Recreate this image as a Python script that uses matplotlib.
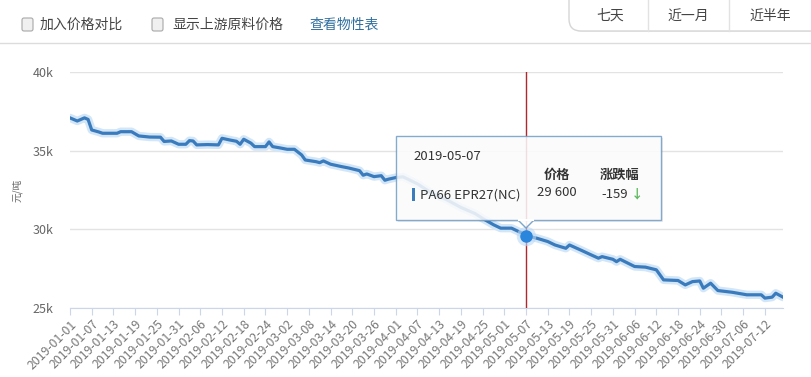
import matplotlib
matplotlib.use("Agg")
import matplotlib.pyplot as plt
import matplotlib.dates as mdates
from matplotlib.patches import FancyBboxPatch, Rectangle, Polygon
import pandas as pd

plt.rcParams['font.family'] = ['Noto Sans CJK SC', 'DejaVu Sans']

dates = ["2019-01-01", "2019-01-03", "2019-01-05", "2019-01-06", "2019-01-07", "2019-01-09",
         "2019-01-10", "2019-01-14", "2019-01-15", "2019-01-18", "2019-01-20", "2019-01-23",
         "2019-01-26", "2019-01-27", "2019-01-29", "2019-01-31", "2019-02-02", "2019-02-03",
         "2019-02-04", "2019-02-05", "2019-02-08", "2019-02-11", "2019-02-12", "2019-02-14",
         "2019-02-16", "2019-02-17", "2019-02-18", "2019-02-20", "2019-02-21", "2019-02-24",
         "2019-02-25", "2019-02-26", "2019-02-28", "2019-03-02", "2019-03-04", "2019-03-06",
         "2019-03-07", "2019-03-10", "2019-03-11", "2019-03-12", "2019-03-14", "2019-03-17",
         "2019-03-19", "2019-03-22", "2019-03-23", "2019-03-24", "2019-03-26", "2019-03-28",
         "2019-03-29", "2019-03-30", "2019-04-01", "2019-04-03", "2019-04-07", "2019-04-11",
         "2019-04-15", "2019-04-19", "2019-04-23", "2019-04-25", "2019-04-28", "2019-04-30",
         "2019-05-03", "2019-05-05", "2019-05-06", "2019-05-07", "2019-05-10", "2019-05-13",
         "2019-05-15", "2019-05-18", "2019-05-19", "2019-05-22", "2019-05-25", "2019-05-27",
         "2019-05-28", "2019-05-31", "2019-06-01", "2019-06-02", "2019-06-06", "2019-06-09",
         "2019-06-12", "2019-06-14", "2019-06-18", "2019-06-20", "2019-06-22", "2019-06-24",
         "2019-06-25", "2019-06-27", "2019-06-29", "2019-07-03", "2019-07-07", "2019-07-11",
         "2019-07-12", "2019-07-14", "2019-07-15", "2019-07-17"]
prices = [37100, 36900, 37100, 37000, 36330, 36200,
          36120, 36120, 36220, 36220, 35950, 35880,
          35870, 35600, 35630, 35420, 35420, 35650,
          35630, 35380, 35400, 35380, 35800, 35700,
          35610, 35420, 35740, 35490, 35270, 35270,
          35570, 35270, 35190, 35100, 35100, 34740,
          34420, 34310, 34250, 34360, 34150, 34000,
          33910, 33740, 33450, 33530, 33360, 33420,
          33130, 33200, 33300, 33350, 32900, 32300,
          31900, 31400, 31000, 30700, 30300, 30080,
          30080, 29860, 29760, 29600, 29440, 29230,
          29010, 28800, 29010, 28700, 28380, 28170,
          28270, 28100, 27950, 28100, 27640, 27600,
          27430, 26790, 26750, 26470, 26680, 26720,
          26260, 26580, 26110, 26000, 25840, 25840,
          25630, 25690, 25940, 25690]
y_ticks = [25000, 30000, 35000, 40000]
y_tick_labels = ["25k", "30k", "35k", "40k"]
series_name = "PA66 EPR27(NC)"
hover_date = "2019-05-07"
hover_price = "29 600"
hover_change = "-159"
y_label = "元/吨"
checkbox_labels = ["加入价格对比", "显示上游原料价格"]
link_label = "查看物性表"
range_buttons = ["七天", "近一月", "近半年"]

W, H = 811, 377
fig = plt.figure(figsize=(W / 100, H / 100), dpi=100)
fig.patch.set_facecolor("white")

L, R, T, B = 70, 783, 72.3, 308
ax = fig.add_axes([L / W, 1 - B / H, (R - L) / W, (B - T) / H])
x = pd.to_datetime(dates)
ax.plot(x, prices, color="#d3e6f7", lw=6, solid_capstyle="round", zorder=2)
ax.plot(x, prices, color="#3a7bbd", lw=2.3, solid_joinstyle="round", zorder=3)

hx = pd.Timestamp(hover_date)
hy = prices[dates.index(hover_date)]
ax.axvline(hx, color="#b0282c", lw=1, zorder=4)
ax.plot([hx], [hy], "o", ms=14, color="#bcd9f5", alpha=0.6, zorder=5, mec="none")
ax.plot([hx], [hy], "o", ms=8, color="#2a85dc", zorder=6, mec="#2a85dc")

ax.set_ylim(25000, 40000)
ax.set_xlim(pd.Timestamp("2019-01-01"), pd.Timestamp("2019-07-17"))
ax.set_yticks(y_ticks)
ax.set_yticklabels(y_tick_labels)
ax.grid(axis="y", color="#e3e3e3", lw=1)
ax.set_axisbelow(True)
for s in ["top", "right", "left"]:
    ax.spines[s].set_visible(False)
ax.spines["bottom"].set_color("#ccd6eb")
ax.tick_params(axis="y", length=0, pad=12, labelsize=9, labelcolor="#666666")

xt = pd.date_range("2019-01-01", "2019-07-12", freq="6D")
ax.set_xticks(xt)
ax.xaxis.set_major_formatter(mdates.DateFormatter("%Y-%m-%d"))
ax.tick_params(axis="x", length=5, color="#ccd6eb", labelsize=8.8, labelcolor="#777777", pad=2)
for lab in ax.get_xticklabels():
    lab.set_rotation(45)
    lab.set_ha("right")
    lab.set_rotation_mode("anchor")

fig.text(17 / W, 1 - 190 / H, y_label, rotation=90, ha="center", va="center",
         fontsize=7, color="#666666")

# overlay in pixel coordinates
ov = fig.add_axes([0, 0, 1, 1], zorder=10)
ov.set_xlim(0, W)
ov.set_ylim(H, 0)
ov.axis("off")
ov.patch.set_visible(False)

# top bar
ov.plot([0, W], [43, 43], color="#dcdcdc", lw=1)
for bx, label, tx in [(22, checkbox_labels[0], 40), (152, checkbox_labels[1], 172)]:
    ov.add_patch(FancyBboxPatch((bx, 18), 11, 13, boxstyle="round,pad=0,rounding_size=2",
                                fc="#f0f0f0", ec="#a8a8a8", lw=0.8))
    ov.text(tx, 24.5, label, fontsize=10, color="#444444", va="center", ha="left")
ov.text(309, 24.5, link_label, fontsize=10, color="#2f6f9e", va="center", ha="left")

ov.add_patch(FancyBboxPatch((571, -10), 258, 42, boxstyle="round,pad=0,rounding_size=12",
                            fc="#000000", alpha=0.06, ec="none"))
ov.add_patch(FancyBboxPatch((569, -12), 260, 43, boxstyle="round,pad=0,rounding_size=12",
                            fc="white", ec="#d6d6d6", lw=1))
for dx in [648, 729]:
    ov.plot([dx, dx], [0, 31], color="#e2e2e2", lw=1)
for cx, lab in zip([610, 688, 770], range_buttons):
    ov.text(cx, 16, lab, fontsize=10, color="#444444", ha="center", va="center")

# tooltip
bx0, by0, bx1, by1 = 396, 136, 661, 220
ov.add_patch(Rectangle((bx0 + 2, by0 + 2), bx1 - bx0, by1 - by0, fc="#000000", alpha=0.08, ec="none"))
ov.add_patch(Rectangle((bx0, by0), bx1 - bx0, by1 - by0, fc="white", alpha=0.85,
                       ec="#6f9cc6", lw=1))
ov.add_patch(Polygon([(518, by1), (526, 228), (534, by1)], closed=False, fc="white",
                     ec="#6f9cc6", lw=1, alpha=0.9))
ov.plot([519, 533], [by1, by1], color="white", lw=1.5)

ov.text(413, 157, hover_date, fontsize=9.5, color="#333333", ha="left", va="center")
ov.add_patch(Rectangle((412, 188), 3, 13, fc="#3b7cbd", ec="none"))
ov.text(420, 195, series_name, fontsize=9.5, color="#333333", ha="left", va="center")
ov.text(557, 175, "价格", fontsize=9.5, fontweight="bold", color="#333333", ha="center", va="center")
ov.text(557, 193, hover_price, fontsize=9.5, color="#333333", ha="center", va="center")
ov.text(620, 175, "涨跌幅", fontsize=9.5, fontweight="bold", color="#333333", ha="center", va="center")
ov.text(628, 194, hover_change, fontsize=9.5, color="#333333", ha="right", va="center")
ov.text(637, 195, "↓", fontsize=9, color="#5cb85c", ha="center", va="center",
        fontweight="bold")

fig.savefig("out.png", dpi=100, facecolor="white")
